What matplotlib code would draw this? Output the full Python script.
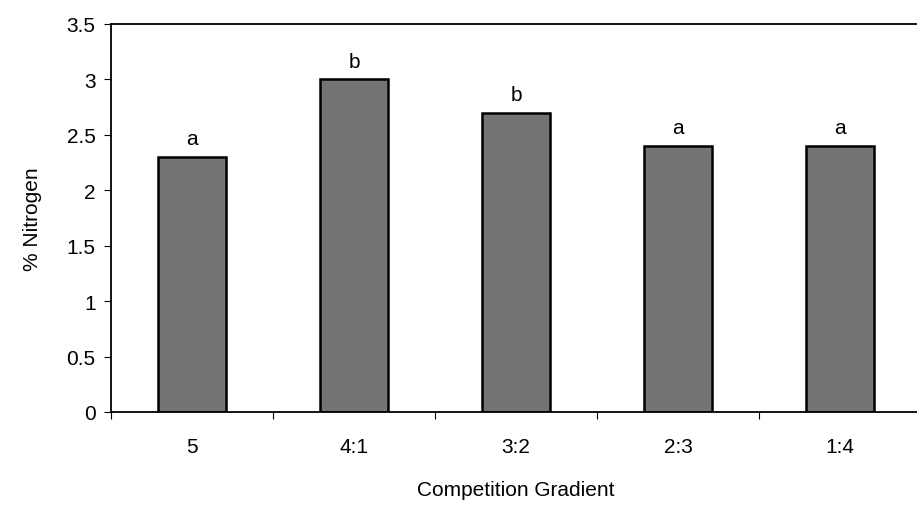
import matplotlib

matplotlib.use("Agg")
import matplotlib.pyplot as plt

plt.rcParams["font.family"] = ["Liberation Sans", "DejaVu Sans"]

categories = ["5", "4:1", "3:2", "2:3", "1:4"]
nitrogen = [2.3, 3.0, 2.7, 2.4, 2.4]
letters = ["a", "b", "b", "a", "a"]

fig = plt.figure(figsize=(9.17, 5.06), dpi=100)
ax = fig.add_axes([111 / 917, (506 - 413) / 506, 810 / 917, 388 / 506])

x = range(len(categories))
bars = ax.bar(x, nitrogen, 0.42, color="#747474", edgecolor="black", linewidth=1.8)
for b, lab in zip(bars, letters):
    ax.text(b.get_x() + b.get_width() / 2, b.get_height() + 0.08, lab,
            ha="center", va="bottom", fontsize=15)

ax.set_xlim(-0.5, len(categories) - 0.5)
ax.set_ylim(0, 3.5)
ax.set_yticks([0, 0.5, 1, 1.5, 2, 2.5, 3, 3.5])
ax.set_yticklabels(["0", "0.5", "1", "1.5", "2", "2.5", "3", "3.5"], fontsize=15)
ax.set_xticks(list(x))
ax.set_xticklabels(categories, fontsize=15)
ax.tick_params(axis="x", length=0, pad=18)
ax.set_xticks([i + 0.5 for i in range(-1, len(categories))], minor=True)
ax.tick_params(axis="x", which="minor", length=5, width=0.8)
ax.tick_params(axis="y", length=5, width=0.8, pad=6)
ax.set_ylabel("% Nitrogen", fontsize=15, labelpad=18)
ax.set_xlabel("Competition Gradient", fontsize=15, labelpad=17)
for s in ax.spines.values():
    s.set_linewidth(1.3)

fig.savefig("out.png", dpi=100)
